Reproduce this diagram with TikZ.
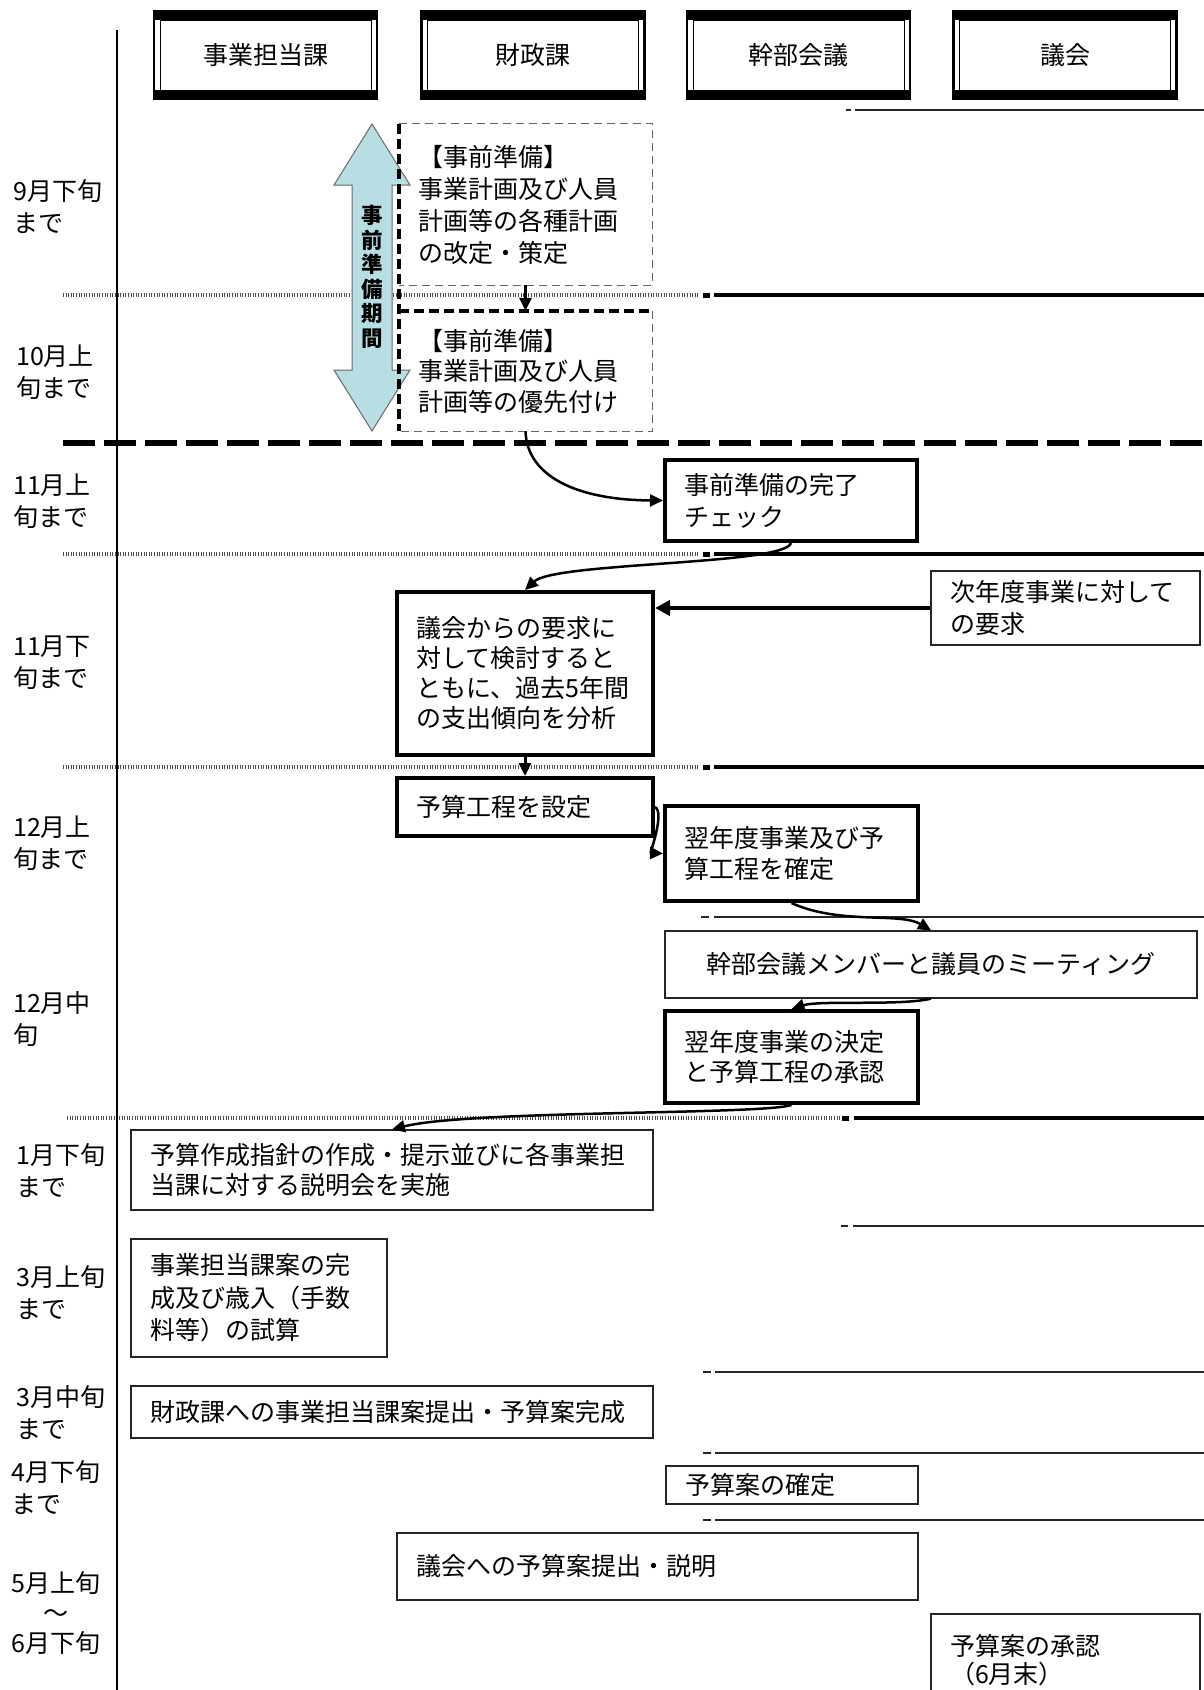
\documentclass[tikz,border=0pt]{standalone}
\usepackage{fontspec}
\setmainfont{Noto Sans CJK JP}
\usetikzlibrary{arrows.meta}
\definecolor{arrowfill}{RGB}{183,222,226}
\definecolor{arrowline}{RGB}{105,105,105}
\newcommand\bxfont{\fontsize{25}{31}\selectfont}
\tikzset{
  hdr/.style={draw, line width=2.5pt, minimum width=223pt, minimum height=88pt, inner sep=0pt,
    font=\fontsize{25}{30}\selectfont,
    path picture={
      \fill (path picture bounding box.north west) rectangle ([yshift=-9pt]path picture bounding box.north east);
      \fill ([yshift=9pt]path picture bounding box.south west) rectangle (path picture bounding box.south east);
      \draw[line width=1pt] ([xshift=6pt,yshift=-9pt]path picture bounding box.north west) rectangle ([xshift=-6pt,yshift=9pt]path picture bounding box.south east);
    }},
  tbox/.style={draw, line width=4pt, fill=white, align=left, inner xsep=19pt, inner ysep=0pt, font=\bxfont},
  nbox/.style={draw=black!85, line width=1.3pt, fill=white, align=left, inner xsep=19pt, inner ysep=0pt, font=\bxfont},
  dbox/.style={align=left, inner xsep=19pt, inner ysep=0pt, font=\bxfont},
  conn/.style={line width=2.5pt, -{Triangle[length=13pt,width=12pt]}},
  hatch/.style={line width=3.5pt, black!70, dash pattern=on 1pt off 1.6pt},
  heavy/.style={line width=4.5pt},
  thinsep/.style={line width=1.3pt, black!85},
  thindash/.style={line width=1pt, black!60, dash pattern=on 8pt off 5pt},
  heavydash/.style={line width=4.5pt, dash pattern=on 10pt off 5pt},
  mlabel/.style={anchor=west, align=left, inner sep=0pt, font=\fontsize{25}{32}\selectfont},
}
\begin{document}
\begin{tikzpicture}[x=1pt,y=-1pt]
\useasboundingbox (0,0) rectangle (1204,1690);
\fill[white] (0,0) rectangle (1204,1690);

% ---------- separators ----------
\draw[thinsep] (846,110) -- (851,110);
\draw[thinsep] (855,110) -- (1204,110);

\draw[hatch] (63,295) -- (700,295);
\fill (703,292.5) rectangle (710,297.5);
\draw[heavy] (714,295) -- (1204,295);

\draw[line width=6pt, dash pattern=on 32pt off 9pt] (63,443) -- (1204,443);

\draw[hatch] (63,554) -- (700,554);
\fill (703,551.5) rectangle (710,556.5);
\draw[heavy] (714,554) -- (1204,554);

\draw[hatch] (63,767) -- (700,767);
\fill (703,764.5) rectangle (710,769.5);
\draw[heavy] (714,767) -- (1204,767);

\draw[thinsep] (701,917) -- (709,917);
\draw[thinsep] (714,917) -- (1204,917);

\draw[hatch] (67,1118) -- (840,1118);
\fill (842,1115.5) rectangle (849,1120.5);
\draw[heavy] (854,1118) -- (1204,1118);

\draw[thinsep] (841,1226) -- (848,1226);
\draw[thinsep] (853,1226) -- (1204,1226);

\draw[thinsep] (703,1372) -- (711,1372);
\draw[thinsep] (715,1372) -- (1204,1372);
\draw[thinsep] (703,1453) -- (711,1453);
\draw[thinsep] (715,1453) -- (1204,1453);
\draw[thinsep] (703,1520) -- (711,1520);
\draw[thinsep] (715,1520) -- (1204,1520);

% time axis
\draw[line width=1.3pt] (117,30) -- (117,1690);

% ---------- headers ----------
\node[hdr] (h1) at (265.5,55) {事業担当課};
\node[hdr] (h2) at (533,55) {財政課};
\node[hdr] (h3) at (798.5,55) {幹部会議};
\node[hdr] (h4) at (1065,55) {議会};

% ---------- month labels ----------
\node[mlabel] (m1) at (13,206.5) {9月下旬\\まで};
\node[mlabel] (m2) at (16,372) {10月上\\旬まで};
\node[mlabel] (m3) at (13,501) {11月上\\旬まで};
\node[mlabel] (m4) at (13,663) {11月下\\旬まで};
\node[mlabel] (m5) at (13,843) {12月上\\旬まで};
\node[mlabel] (m6) at (13,1019) {12月中\\旬};
\node[mlabel] (m7) at (16,1171) {1月下旬\\まで};
\node[mlabel] (m8) at (16,1293) {3月上旬\\まで};
\node[mlabel] (m9) at (16,1413) {3月中旬\\まで};
\node[mlabel] (m10) at (11,1488) {4月下旬\\まで};
\node[mlabel, align=center, font=\fontsize{25}{30}\selectfont] (m11) at (11,1613) {5月上旬\\～\\6月下旬};

% ---------- preparation period arrow ----------
\draw[fill=arrowfill, draw=arrowline, line width=1pt]
  (372,124) -- (410,185) -- (392,185) -- (392,370) -- (410,370) -- (372,431)
  -- (334,370) -- (352,370) -- (352,185) -- (334,185) -- cycle;
\node[font=\bfseries\fontsize{21.5}{24.5}\selectfont, align=center, inner sep=0pt] (kikan) at (372,277) {事\\前\\準\\備\\期\\間};

% ---------- dashed preparation boxes ----------
\node[dbox, minimum width=253pt, minimum height=161pt, text width=215pt, font=\fontsize{25}{32}\selectfont] (A) at (525.5,204.5)
  {【事前準備】\\事業計画及び人員\\計画等の各種計画\\の改定・策定};
\node[dbox, minimum width=253pt, minimum height=120pt, text width=215pt, font=\fontsize{25}{30.5}\selectfont] (B) at (525.5,371)
  {【事前準備】\\事業計画及び人員\\計画等の優先付け};
\draw[thindash] (A.north west) -- (A.north east) -- (A.south east) -- (A.south west);
\draw[thindash] (B.north east) -- (B.south east) -- (B.south west);
\draw[heavydash] (B.north west) -- (B.north east);
\draw[heavydash] (A.north west) -- (B.south west);

% ---------- process boxes ----------
\node[tbox, minimum width=252pt, minimum height=81pt, text width=214pt, font=\fontsize{25}{32}\selectfont] (E) at (791,500.5)
  {事前準備の完了\\チェック};
\node[tbox, minimum width=256pt, minimum height=163pt, text width=218pt, font=\fontsize{25}{30}\selectfont] (G) at (525,673.5)
  {議会からの要求に\\対して検討すると\\ともに、過去5年間\\の支出傾向を分析};
\node[nbox, minimum width=269pt, minimum height=74pt, text width=231pt, font=\fontsize{25}{32}\selectfont] (H) at (1065.5,608)
  {次年度事業に対して\\の要求};
\node[tbox, minimum width=256pt, minimum height=58pt, text width=218pt] (J) at (525,807)
  {予算工程を設定};
\node[tbox, minimum width=253pt, minimum height=95pt, text width=215pt, font=\fontsize{25}{32}\selectfont] (L) at (791.5,853.5)
  {翌年度事業及び予\\算工程を確定};
\node[nbox, minimum width=532pt, minimum height=67pt, align=center] (N) at (931,964.5)
  {幹部会議メンバーと議員のミーティング};
\node[tbox, minimum width=253pt, minimum height=92pt, text width=215pt, font=\fontsize{25}{30}\selectfont] (P) at (791.5,1057)
  {翌年度事業の決定\\と予算工程の承認};
\node[nbox, minimum width=522pt, minimum height=80pt, text width=484pt, font=\fontsize{25}{30}\selectfont] (R) at (392,1170)
  {予算作成指針の作成・提示並びに各事業担\\当課に対する説明会を実施};
\node[nbox, minimum width=256pt, minimum height=118pt, text width=218pt, font=\fontsize{25}{32.5}\selectfont] (S) at (259,1298)
  {事業担当課案の完\\成及び歳入（手数\\料等）の試算};
\node[nbox, minimum width=522pt, minimum height=52pt, text width=484pt] (T) at (392,1412)
  {財政課への事業担当課案提出・予算案完成};
\node[nbox, minimum width=252pt, minimum height=38pt, text width=214pt] (U) at (792,1485)
  {\raisebox{-4pt}{予算案の確定}};
\node[nbox, minimum width=521pt, minimum height=67pt, text width=483pt] (V) at (657.5,1566.5)
  {\raisebox{-3pt}{議会への予算案提出・説明}};
\node[nbox, minimum width=269pt, minimum height=92pt, text width=231pt, font=\fontsize{25}{28}\selectfont] (W) at (1065.5,1660)
  {予算案の承認\\（6月末）};

% ---------- connectors ----------
\draw[conn, line width=3pt] (A.south) -- (B.north);
\draw[conn] (B.south) .. controls (527,478) and (580,500) .. (E.west);
\draw[conn] (E.south) .. controls (785,565) and (555,562) .. (G.north);
\draw[conn, line width=4pt, -{Triangle[length=15pt,width=15pt]}] (H.west) -- (H.west -| G.east);
\draw[conn, line width=3pt] (G.south) -- (J.north);
\draw[conn] (J.east) .. controls (665,812) and (650,853) .. (L.west);
\draw[conn] (L.south) .. controls (840,925) and (900,912) .. (N.north);
\draw[conn] (N.south) .. controls (900,1006) and (820,1000) .. (P.north);
\draw[conn] (P.south) .. controls (760,1115) and (470,1110) .. (R.north);
\end{tikzpicture}
\end{document}
